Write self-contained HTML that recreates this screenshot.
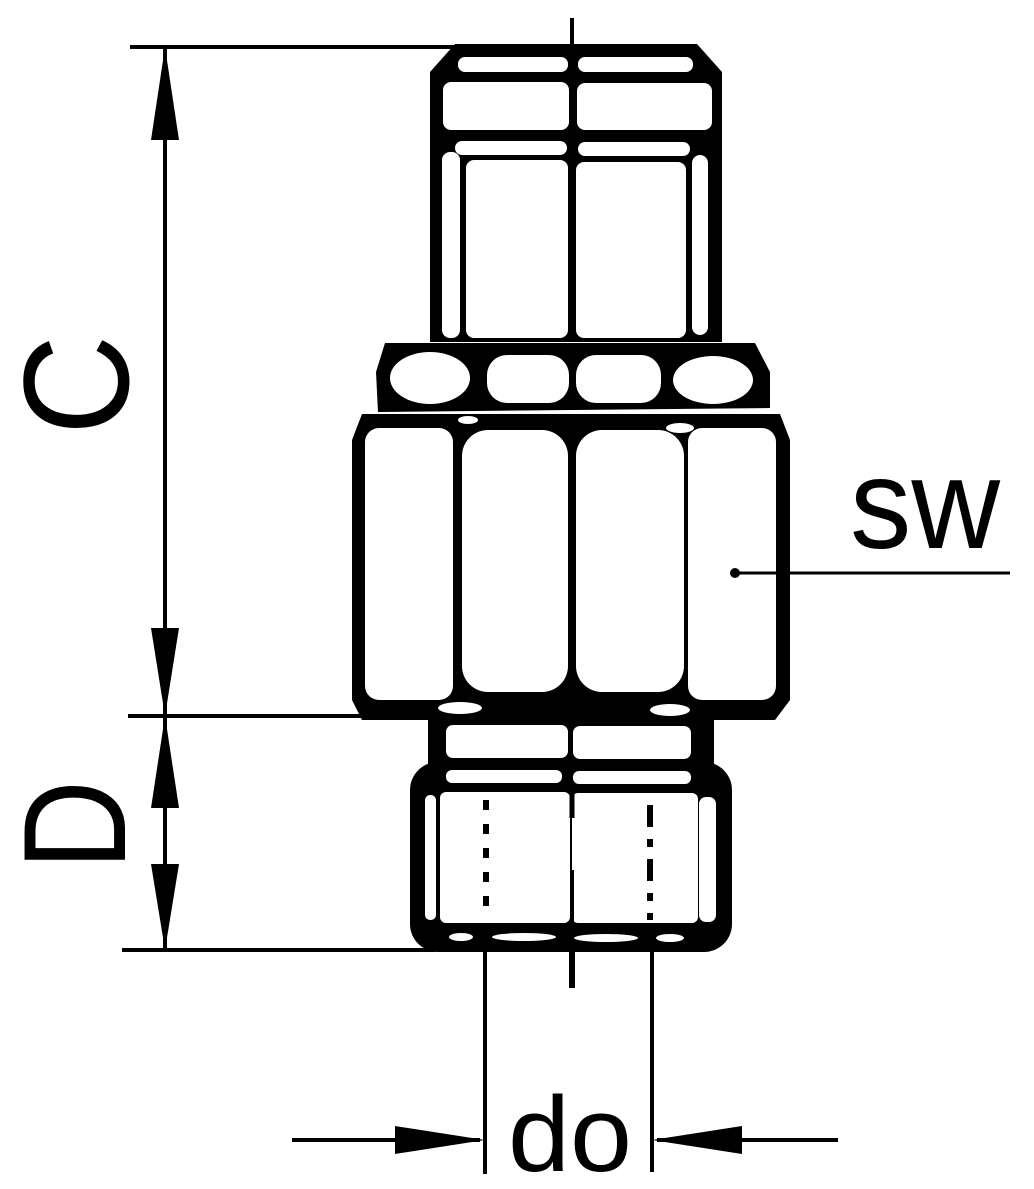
<!DOCTYPE html>
<html><head><style>html,body{margin:0;padding:0;background:#fff}svg{display:block}</style></head>
<body>
<svg width="1034" height="1189" viewBox="0 0 1034 1189" xmlns="http://www.w3.org/2000/svg">
<rect width="1034" height="1189" fill="#fff"/>
<g stroke="#000" stroke-width="4" fill="none">
<line x1="130" y1="47" x2="460" y2="47"/>
<line x1="128" y1="716" x2="362" y2="716"/>
<line x1="122" y1="950" x2="435" y2="950"/>
<line x1="165" y1="47" x2="165" y2="950"/>
<line x1="485" y1="950" x2="485" y2="1174"/>
<line x1="652" y1="950" x2="652" y2="1172"/>
<line x1="292" y1="1140" x2="480" y2="1140"/>
<line x1="657" y1="1140" x2="838" y2="1140"/>
<line x1="572" y1="18" x2="572" y2="50"/>
<line x1="572" y1="945" x2="572" y2="988" stroke-width="6"/>
</g>
<g fill="#000">
<polygon points="165,47 151,140 179,140"/>
<polygon points="165,716 151,628 179,628"/>
<polygon points="165,716 151,808 179,808"/>
<polygon points="165,950 151,864 179,864"/>
<polygon points="485,1140 395,1126 395,1154"/>
<polygon points="652,1140 742,1126 742,1154"/>
</g>
<g fill="#000">
<polygon points="455,44 697,44 722,72 722,342 430,342 430,72"/>
<polygon points="385,343 755,343 770,372 770,408 378,412 376,372"/>
<polygon points="362,414 780,414 790,440 790,700 775,720 362,720 352,700 352,440"/>
<rect x="428" y="712" width="286" height="58"/>
<rect x="410" y="762" width="322" height="190" rx="28"/>
</g>
<g fill="#fff">
<rect x="458" y="57" width="110" height="15" rx="7"/>
<rect x="578" y="57" width="115" height="15" rx="7"/>
<rect x="443" y="82" width="126" height="48" rx="8"/>
<rect x="577" y="83" width="135" height="47" rx="8"/>
<rect x="455" y="141" width="112" height="14" rx="7"/>
<rect x="578" y="142" width="112" height="14" rx="7"/>
<rect x="442" y="152" width="18" height="186" rx="8"/>
<rect x="692" y="155" width="16" height="180" rx="8"/>
<rect x="466" y="160" width="102" height="178" rx="8"/>
<rect x="576" y="162" width="110" height="176" rx="8"/>
<ellipse cx="430" cy="378" rx="40" ry="26"/>
<rect x="487" y="355" width="82" height="48" rx="20"/>
<rect x="576" y="355" width="85" height="48" rx="20"/>
<ellipse cx="713" cy="380" rx="40" ry="24"/>
<ellipse cx="468" cy="420" rx="10" ry="4"/>
<ellipse cx="680" cy="428" rx="14" ry="5"/>
<rect x="365" y="428" width="88" height="272" rx="14"/>
<rect x="688" y="428" width="88" height="272" rx="14"/>
<rect x="462" y="430" width="106" height="262" rx="26"/>
<rect x="576" y="430" width="108" height="262" rx="26"/>
<ellipse cx="460" cy="708" rx="22" ry="6"/>
<ellipse cx="670" cy="710" rx="20" ry="6"/>
<rect x="446" y="725" width="122" height="33" rx="7"/>
<rect x="573" y="726" width="118" height="33" rx="7"/>
<rect x="446" y="770" width="116" height="13" rx="6"/>
<rect x="573" y="771" width="118" height="13" rx="6"/>
<rect x="425" y="795" width="11" height="125" rx="5"/>
<rect x="699" y="797" width="17" height="125" rx="7"/>
<rect x="440" y="792" width="130" height="131" rx="6"/>
<rect x="572" y="793" width="126" height="130" rx="6"/>
<ellipse cx="461" cy="937" rx="12" ry="4"/>
<ellipse cx="524" cy="937" rx="32" ry="4"/>
<ellipse cx="606" cy="938" rx="32" ry="4"/>
<ellipse cx="670" cy="938" rx="14" ry="4"/>
</g>
<g stroke="#000" fill="none">
<line x1="572" y1="130" x2="572" y2="240" stroke-width="5"/>
<line x1="572" y1="262" x2="572" y2="340" stroke-width="4"/>
<line x1="572" y1="420" x2="572" y2="535" stroke-width="4"/>
<line x1="572" y1="560" x2="572" y2="710" stroke-width="4"/>
<line x1="572" y1="790" x2="572" y2="818" stroke-width="5"/>
<line x1="572" y1="870" x2="572" y2="925" stroke-width="4"/>
<line x1="486" y1="800" x2="486" y2="910" stroke-width="6" stroke-dasharray="10,14"/>
<line x1="650" y1="805" x2="650" y2="920" stroke-width="6" stroke-dasharray="22,12,8,12"/>
<line x1="735" y1="573" x2="1010" y2="573" stroke-width="3"/>
</g>
<circle cx="735" cy="573" r="5" fill="#000"/>
<g font-family="Liberation Sans, sans-serif" fill="#000">
<text x="850" y="548" font-size="128" textLength="150" lengthAdjust="spacingAndGlyphs">sw</text>
<text x="508" y="1171" font-size="107" textLength="124" lengthAdjust="spacingAndGlyphs">do</text>
<text transform="translate(128,435) rotate(-90)" font-size="150" textLength="100" lengthAdjust="spacingAndGlyphs">C</text>
<text transform="translate(125,870) rotate(-90)" font-size="146" textLength="90" lengthAdjust="spacingAndGlyphs">D</text>
</g>
</svg>
</body></html>
